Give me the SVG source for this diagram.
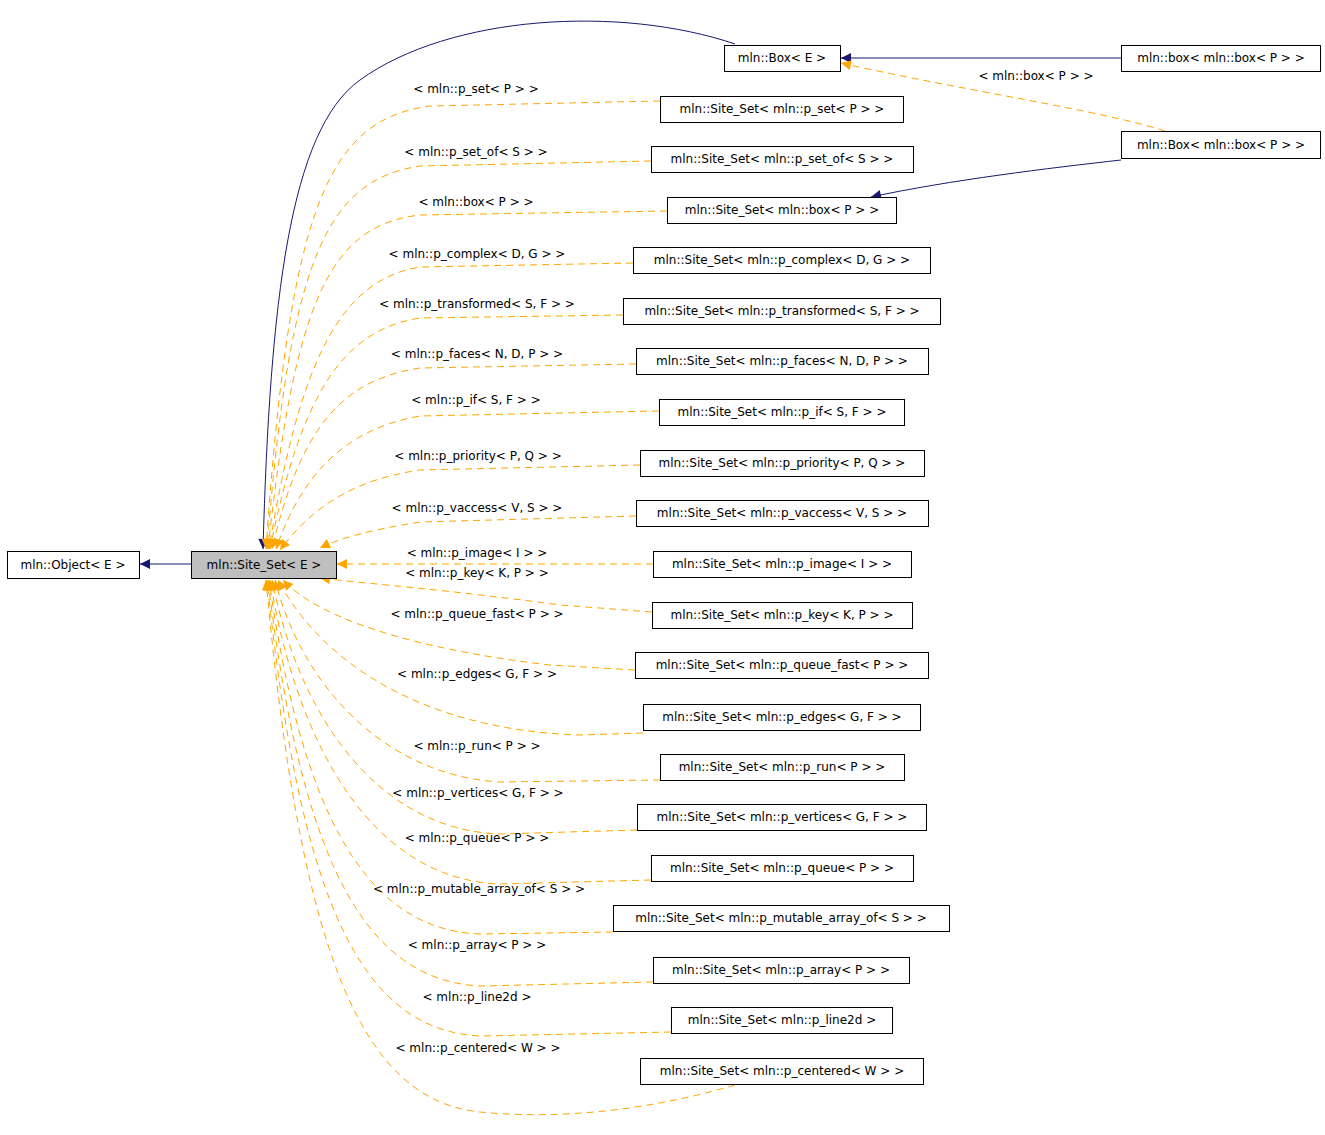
<svg xmlns="http://www.w3.org/2000/svg" width="1325" height="1135" viewBox="0 0 1325 1135">
<style>
.n rect{fill:#fff;stroke:#000;stroke-width:1}
text{font-family:"DejaVu Sans","Liberation Sans",sans-serif;font-size:12px;fill:#000}
.n text{text-anchor:middle}
.l{text-anchor:middle}
.o{fill:none;stroke:#ffa500;stroke-dasharray:7,5;stroke-width:1;marker-end:url(#ao)}
.b{fill:none;stroke:#191970;stroke-width:1;marker-end:url(#ab)}
</style>
<defs>
<marker id="ao" viewBox="0 0 10 10" refX="10" refY="5" markerWidth="13" markerHeight="10" markerUnits="userSpaceOnUse" orient="auto"><path d="M0,0L10,5L0,10z" fill="#ffa500"/></marker>
<marker id="ab" viewBox="0 0 10 10" refX="10" refY="5" markerWidth="13" markerHeight="10" markerUnits="userSpaceOnUse" orient="auto"><path d="M0,0L10,5L0,10z" fill="#191970"/></marker>
</defs>
<rect width="1325" height="1135" fill="#fff"/>
<g id="edges">
<path class="b" d="M191,564 L140,564"/>
<path class="b" d="M735,44 C620,5 450,15 360,80 C290,130 270,300 263,549"/>
<path class="b" d="M1121,58 L841,58"/>
<path class="b" d="M1121,160 C1050,168 950,180 871,197"/>
<path class="o" d="M1165,131 C1100,110 960,90 841,63"/>
<path class="o" d="M660,101 L430,106 C330,120 290,200 266,549"/>
<path class="o" d="M651,161 L420,166 C330,180 290,250 267,549"/>
<path class="o" d="M667,211 L420,215 C330,225 295,300 268,549"/>
<path class="o" d="M633,263 L420,267 C340,280 300,360 269,549"/>
<path class="o" d="M623,315 L420,318 C340,330 300,400 270,549"/>
<path class="o" d="M636,364 L420,368 C340,380 300,430 272,549"/>
<path class="o" d="M659,411 L420,416 C340,430 300,480 276,549"/>
<path class="o" d="M640,465 L420,470 C350,480 310,510 280,550"/>
<path class="o" d="M636,516 L420,522 C370,530 340,538 320,548"/>
<path class="o" d="M653,564 L337,564"/>
<path class="o" d="M652,612 L560,605 C450,590 380,585 320,578"/>
<path class="o" d="M635,670 L550,665 C420,650 320,620 283,580"/>
<path class="o" d="M643,733 L580,735 C420,730 320,660 278,580"/>
<path class="o" d="M660,780 L500,782 C380,775 300,680 275,580"/>
<path class="o" d="M637,830 L500,834 C380,830 300,720 272,580"/>
<path class="o" d="M651,880 L500,884 C380,880 300,760 270,580"/>
<path class="o" d="M613,932 L480,934 C360,930 300,800 269,580"/>
<path class="o" d="M653,982 L480,986 C360,980 300,850 268,580"/>
<path class="o" d="M671,1032 L480,1036 C360,1030 300,900 267,580"/>
<path class="o" d="M735,1085 C650,1110 560,1120 480,1112 C360,1100 300,950 266,580"/>
</g>
<g id="labels">
<text class="l" x="1036" y="80">&lt; mln::box&lt; P &gt; &gt;</text>
<text class="l" x="476" y="93">&lt; mln::p_set&lt; P &gt; &gt;</text>
<text class="l" x="476" y="156">&lt; mln::p_set_of&lt; S &gt; &gt;</text>
<text class="l" x="476" y="206">&lt; mln::box&lt; P &gt; &gt;</text>
<text class="l" x="477" y="258">&lt; mln::p_complex&lt; D, G &gt; &gt;</text>
<text class="l" x="477" y="308">&lt; mln::p_transformed&lt; S, F &gt; &gt;</text>
<text class="l" x="477" y="358">&lt; mln::p_faces&lt; N, D, P &gt; &gt;</text>
<text class="l" x="476" y="404">&lt; mln::p_if&lt; S, F &gt; &gt;</text>
<text class="l" x="478" y="460">&lt; mln::p_priority&lt; P, Q &gt; &gt;</text>
<text class="l" x="477" y="512">&lt; mln::p_vaccess&lt; V, S &gt; &gt;</text>
<text class="l" x="477" y="557">&lt; mln::p_image&lt; I &gt; &gt;</text>
<text class="l" x="477" y="577">&lt; mln::p_key&lt; K, P &gt; &gt;</text>
<text class="l" x="477" y="618">&lt; mln::p_queue_fast&lt; P &gt; &gt;</text>
<text class="l" x="477" y="678">&lt; mln::p_edges&lt; G, F &gt; &gt;</text>
<text class="l" x="477" y="750">&lt; mln::p_run&lt; P &gt; &gt;</text>
<text class="l" x="478" y="797">&lt; mln::p_vertices&lt; G, F &gt; &gt;</text>
<text class="l" x="477" y="842">&lt; mln::p_queue&lt; P &gt; &gt;</text>
<text class="l" x="479" y="893">&lt; mln::p_mutable_array_of&lt; S &gt; &gt;</text>
<text class="l" x="477" y="949">&lt; mln::p_array&lt; P &gt; &gt;</text>
<text class="l" x="477" y="1001">&lt; mln::p_line2d &gt;</text>
<text class="l" x="478" y="1052">&lt; mln::p_centered&lt; W &gt; &gt;</text>
</g>
<g id="object" class="n"><rect x="7.5" y="551.5" width="132" height="27"/><text x="73" y="569">mln::Object&lt; E &gt;</text></g>
<g id="siteset" class="n"><rect x="191.5" y="551.5" width="145" height="27" style="fill:#bfbfbf"/><text x="264" y="569">mln::Site_Set&lt; E &gt;</text></g>
<g id="boxE" class="n"><rect x="724.5" y="45.5" width="116" height="26"/><text x="782" y="62">mln::Box&lt; E &gt;</text></g>
<g id="boxbox" class="n"><rect x="1121.5" y="45.5" width="199" height="26"/><text x="1221" y="62">mln::box&lt; mln::box&lt; P &gt; &gt;</text></g>
<g id="Boxbox" class="n"><rect x="1121.5" y="131.5" width="199" height="27"/><text x="1221" y="149">mln::Box&lt; mln::box&lt; P &gt; &gt;</text></g>
<g id="s_p_set" class="n"><rect x="660.5" y="96.5" width="243" height="26"/><text x="782" y="113">mln::Site_Set&lt; mln::p_set&lt; P &gt; &gt;</text></g>
<g id="s_p_set_of" class="n"><rect x="651.5" y="146.5" width="262" height="26"/><text x="782" y="163">mln::Site_Set&lt; mln::p_set_of&lt; S &gt; &gt;</text></g>
<g id="s_box" class="n"><rect x="667.5" y="197.5" width="229" height="26"/><text x="782" y="214">mln::Site_Set&lt; mln::box&lt; P &gt; &gt;</text></g>
<g id="s_p_complex" class="n"><rect x="633.5" y="247.5" width="297" height="26"/><text x="782" y="264">mln::Site_Set&lt; mln::p_complex&lt; D, G &gt; &gt;</text></g>
<g id="s_p_transformed" class="n"><rect x="623.5" y="298.5" width="317" height="26"/><text x="782" y="315">mln::Site_Set&lt; mln::p_transformed&lt; S, F &gt; &gt;</text></g>
<g id="s_p_faces" class="n"><rect x="636.5" y="348.5" width="292" height="26"/><text x="782" y="365">mln::Site_Set&lt; mln::p_faces&lt; N, D, P &gt; &gt;</text></g>
<g id="s_p_if" class="n"><rect x="659.5" y="399.5" width="245" height="26"/><text x="782" y="416">mln::Site_Set&lt; mln::p_if&lt; S, F &gt; &gt;</text></g>
<g id="s_p_priority" class="n"><rect x="640.5" y="450.5" width="284" height="26"/><text x="782" y="467">mln::Site_Set&lt; mln::p_priority&lt; P, Q &gt; &gt;</text></g>
<g id="s_p_vaccess" class="n"><rect x="636.5" y="500.5" width="292" height="26"/><text x="782" y="517">mln::Site_Set&lt; mln::p_vaccess&lt; V, S &gt; &gt;</text></g>
<g id="s_p_image" class="n"><rect x="653.5" y="551.5" width="258" height="26"/><text x="782" y="568">mln::Site_Set&lt; mln::p_image&lt; I &gt; &gt;</text></g>
<g id="s_p_key" class="n"><rect x="652.5" y="602.5" width="260" height="26"/><text x="782" y="619">mln::Site_Set&lt; mln::p_key&lt; K, P &gt; &gt;</text></g>
<g id="s_p_queue_fast" class="n"><rect x="635.5" y="652.5" width="293" height="26"/><text x="782" y="669">mln::Site_Set&lt; mln::p_queue_fast&lt; P &gt; &gt;</text></g>
<g id="s_p_edges" class="n"><rect x="643.5" y="704.5" width="277" height="26"/><text x="782" y="721">mln::Site_Set&lt; mln::p_edges&lt; G, F &gt; &gt;</text></g>
<g id="s_p_run" class="n"><rect x="660.5" y="754.5" width="244" height="26"/><text x="782" y="771">mln::Site_Set&lt; mln::p_run&lt; P &gt; &gt;</text></g>
<g id="s_p_vertices" class="n"><rect x="637.5" y="804.5" width="289" height="26"/><text x="782" y="821">mln::Site_Set&lt; mln::p_vertices&lt; G, F &gt; &gt;</text></g>
<g id="s_p_queue" class="n"><rect x="651.5" y="855.5" width="262" height="26"/><text x="782" y="872">mln::Site_Set&lt; mln::p_queue&lt; P &gt; &gt;</text></g>
<g id="s_p_mutable_array_of" class="n"><rect x="613.5" y="905.5" width="336" height="26"/><text x="781" y="922">mln::Site_Set&lt; mln::p_mutable_array_of&lt; S &gt; &gt;</text></g>
<g id="s_p_array" class="n"><rect x="653.5" y="957.5" width="256" height="26"/><text x="781" y="974">mln::Site_Set&lt; mln::p_array&lt; P &gt; &gt;</text></g>
<g id="s_p_line2d" class="n"><rect x="671.5" y="1007.5" width="221" height="26"/><text x="782" y="1024">mln::Site_Set&lt; mln::p_line2d &gt;</text></g>
<g id="s_p_centered" class="n"><rect x="640.5" y="1058.5" width="283" height="26"/><text x="782" y="1075">mln::Site_Set&lt; mln::p_centered&lt; W &gt; &gt;</text></g>
</svg>
